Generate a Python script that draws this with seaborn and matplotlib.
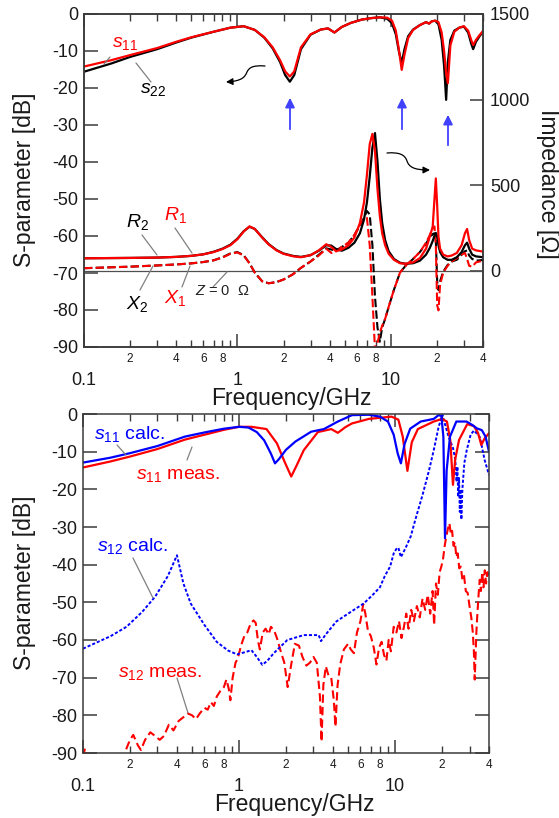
import numpy as np
import matplotlib
matplotlib.use('Agg')
import matplotlib.pyplot as plt
import seaborn as sns
from matplotlib.path import Path
from matplotlib.patches import FancyArrowPatch
from matplotlib.lines import Line2D
from matplotlib.ticker import FixedLocator, FixedFormatter, FuncFormatter, NullLocator

# ---------------- data: top panel (S-parameters, dB) ----------------
f_top = [0.1, 0.15, 0.2, 0.3, 0.4, 0.5, 0.7, 0.9, 1.1, 1.3, 1.5, 1.7, 1.9, 2.05, 2.2, 2.35,
         2.6, 3.0, 3.5, 3.9, 4.3, 4.8, 5.5, 6.5, 7.5, 8.5, 9.5, 10.2, 10.8, 11.3, 11.8, 12.3,
         13.0, 14.0, 15.5, 17.0, 17.8, 18.5, 19.5, 20.5, 21.5, 22.3, 23.0, 23.6, 24.5, 26.0,
         28.0, 30.0, 32.0, 33.5, 34.5, 36.0, 38.0, 40.0]
s11_top = [-14.2, -12.5, -11.1, -9.2, -7.5, -6.3, -4.8, -3.7, -3.3, -4.3, -6.3, -9.0, -12.5,
           -15.5, -16.9, -15.5, -9.0, -5.5, -4.2, -3.9, -5.0, -3.5, -2.4, -1.5, -1.1, -0.9,
           -1.0, -1.8, -4.5, -9.5, -15.1, -11.0, -6.5, -4.3, -3.0, -2.2, -2.6, -2.0, -1.8,
           -2.2, -5.0, -10.0, -16.0, -18.7, -8.5, -4.8, -3.7, -3.3, -4.5, -7.0, -8.4, -7.0,
           -5.7, -4.6]
s22_top = [-15.6, -13.4, -11.6, -9.5, -7.7, -6.4, -4.8, -3.7, -3.3, -4.3, -6.4, -9.3, -13.0,
           -16.5, -18.3, -16.5, -9.5, -5.6, -4.2, -3.9, -5.0, -3.5, -2.4, -1.5, -1.1, -0.9,
           -1.3, -2.5, -5.5, -10.0, -13.3, -9.5, -6.0, -4.2, -3.0, -2.2, -2.6, -2.0, -1.8,
           -2.8, -7.0, -14.0, -23.2, -13.0, -7.0, -4.5, -3.7, -3.4, -5.0, -8.0, -9.5, -7.5,
           -6.0, -4.8]

# ---------------- data: top panel (impedance, Ohm) ----------------
f_z = [0.1, 0.2, 0.3, 0.4, 0.5, 0.6, 0.7, 0.8, 0.9, 1.0, 1.1, 1.2, 1.3, 1.45, 1.6, 1.8, 2.0,
       2.3, 2.6, 3.0, 3.4, 3.8, 4.1, 4.4, 4.8, 5.3, 5.8, 6.3, 6.7, 7.0, 7.3, 7.6, 7.9, 8.2,
       8.5, 8.8, 9.2, 9.7, 10.5, 11.5, 12.5, 14.0, 15.5, 17.0, 18.0, 18.8, 19.3, 19.7, 20.1,
       20.5, 21.0, 22.0, 23.5, 25.0, 27.0, 29.0, 30.5, 31.5, 32.5, 34.0, 36.0, 40.0]
R1 = [74, 76, 78, 82, 88, 97, 110, 128, 150, 185, 230, 260, 245, 195, 155, 120, 100, 86, 80,
      92, 120, 156, 140, 115, 125, 150, 195, 280, 400, 560, 740, 800, 700, 480, 320, 220, 150,
      100, 65, 45, 42, 50, 75, 130, 200, 260, 420, 540, 380, 200, 130, 95, 85, 90, 105, 150,
      220, 245, 180, 130, 120, 113]
R2 = [74, 76, 78, 82, 88, 97, 112, 130, 153, 188, 232, 258, 245, 197, 157, 122, 102, 88, 82,
      92, 118, 150, 148, 128, 118, 135, 165, 220, 300, 400, 550, 720, 805, 640, 420, 280, 180,
      115, 70, 48, 42, 45, 60, 95, 135, 175, 205, 222, 200, 150, 110, 80, 65, 65, 80, 110, 150,
      165, 130, 95, 85, 80]
X1 = [16, 25, 32, 38, 44, 52, 62, 78, 100, 108, 90, 45, -10, -60, -72, -65, -50, -20, 18, 55,
      90, 130, 105, 115, 140, 165, 210, 270, 300, 310, 150, -150, -460, -420, -360, -320, -280,
      -210, -110, -10, 30, 70, 110, 165, 210, 250, 260, 150, -200, -230, -80, -10, 30, 55, 75,
      95, 105, 70, 30, 25, 50, 60]
X2 = [16, 25, 32, 38, 44, 52, 62, 80, 102, 110, 92, 45, -10, -60, -72, -65, -50, -20, 18, 55,
      95, 132, 125, 120, 140, 165, 210, 265, 310, 350, 330, 150, -150, -330, -413, -330, -280,
      -210, -110, -10, 30, 70, 110, 160, 195, 215, 220, 180, -60, -111, -60, -5, 35, 55, 65,
      95, 115, 120, 90, 70, 60, 64]

# ---------------- data: bottom panel ----------------
f_s11c = [0.1, 0.15, 0.2, 0.3, 0.45, 0.6, 0.8, 1.0, 1.15, 1.3, 1.45, 1.6, 1.7, 1.8, 2.0, 2.3,
          2.9, 3.5, 4.3, 5.3, 6.8, 8.0, 9.0, 9.8, 10.4, 10.9, 11.5, 12.5, 14.6, 17.7, 19.0,
          19.8, 20.4, 20.9, 21.4, 22.5, 24.7, 28.7, 31.5, 33.4, 36.0, 38.0, 40.0]
s11_calc = [-12.9, -11.6, -10.4, -8.5, -6.0, -4.9, -3.9, -3.4, -3.6, -4.8, -7.0, -10.5, -13.1,
            -12.0, -9.5, -7.3, -4.7, -4.0, -2.0, -0.3, -0.2, -0.7, -2.0, -5.5, -10.5, -13.1,
            -8.0, -3.9, -2.0, -1.3, -0.3, -0.5, -6.0, -33.0, -15.0, -6.0, -2.0, -2.0, -3.0,
            -3.8, -4.3, -6.0, -10.0]
f_s11m = [0.1, 0.15, 0.2, 0.3, 0.45, 0.6, 0.8, 1.0, 1.2, 1.5, 1.75, 1.95, 2.16, 2.35, 2.6,
          3.2, 3.9, 4.3, 4.8, 5.3, 6.8, 9.5, 10.5, 11.2, 12.0, 12.8, 14.0, 17.7, 20.0, 21.5,
          22.6, 23.5, 24.3, 25.7, 29.0, 32.0, 34.0, 35.7, 37.5, 40.0]
s11_meas = [-14.2, -12.6, -11.3, -9.3, -6.8, -5.5, -4.2, -3.4, -3.4, -4.0, -7.8, -12.5, -16.6,
            -13.5, -9.6, -4.8, -4.0, -5.0, -3.5, -2.5, -1.3, -0.7, -1.5, -6.0, -15.1, -7.5,
            -4.0, -2.0, -1.3, -2.0, -7.0, -18.8, -12.0, -6.9, -2.7, -3.2, -5.0, -8.2, -6.5,
            -5.1]
f_s12c = [0.1, 0.15, 0.19, 0.24, 0.29, 0.35, 0.40, 0.44, 0.49, 0.6, 0.72, 0.85, 0.97, 1.1,
          1.2, 1.3, 1.41, 1.52, 1.67, 2.04, 2.6, 3.24, 3.35, 3.6, 4.2, 5.0, 6.3, 7.2, 8.0, 8.6,
          9.3, 9.8, 10.2, 10.5, 10.9, 11.7, 12.6, 13.5, 15.0, 16.5, 17.7, 19.0, 20.1, 21.0,
          22.0, 23.5, 24.3, 24.8, 25.1, 25.4, 25.7, 26.0, 26.3, 26.6, 27.0, 27.8, 28.8, 30.5,
          32.0, 34.0, 35.0, 37.5, 40.0]
s12_calc = [-62.3, -59.0, -56.5, -52.5, -48.5, -43.0, -37.5, -45.0, -50.3, -56.0, -60.5,
            -62.8, -63.8, -63.2, -62.7, -64.5, -66.6, -65.5, -63.5, -60.0, -58.7, -58.7, -60.3,
            -58.5, -55.1, -53.0, -50.3, -48.0, -46.0, -43.0, -40.5, -37.0, -35.8, -35.5, -38.0,
            -35.5, -32.5, -28.0, -21.5, -15.0, -9.6, -3.5, -0.2, -3.0, -6.0, -9.0, -12.0,
            -18.0, -14.0, -22.0, -17.0, -26.0, -20.0, -28.0, -20.0, -13.0, -9.6, -5.5, -4.4,
            -5.5, -6.2, -12.2, -16.2]
f_s12m = [0.100, 0.103, 0.107, 0.12, 0.15, 0.17, 0.185, 0.20, 0.21, 0.225, 0.235, 0.25, 0.27,
          0.29, 0.31, 0.33, 0.355, 0.38, 0.41, 0.44, 0.47, 0.50, 0.53, 0.56, 0.60, 0.63, 0.66,
          0.69, 0.72, 0.76, 0.80, 0.83, 0.86, 0.88, 0.91, 0.95, 0.98, 1.03, 1.08, 1.13, 1.19,
          1.24, 1.28, 1.32, 1.36, 1.42, 1.48, 1.55, 1.60, 1.68, 1.75, 1.85, 1.95, 2.05, 2.15,
          2.28, 2.42, 2.55, 2.70, 2.85, 3.00, 3.15, 3.30, 3.38, 3.47, 3.60, 3.75, 3.90, 4.05,
          4.15, 4.28, 4.45, 4.70, 5.00, 5.20, 5.45, 5.70, 6.00, 6.25, 6.45, 6.70, 7.00, 7.30,
          7.60, 7.90, 8.20, 8.50, 8.80, 9.10, 9.40, 9.80, 10.2, 10.6, 11.0, 11.4, 11.8, 12.2,
          12.7, 13.2, 13.8, 14.4, 15.0, 15.6, 16.2, 16.8, 17.4, 17.8, 18.3, 18.8, 19.3, 19.8,
          20.3, 20.8, 21.3, 21.8, 22.3, 22.8, 23.2, 23.7, 24.2, 24.7, 25.2, 25.8, 26.4, 27.0,
          27.7, 28.4, 29.2, 30.0, 30.8, 31.5, 32.0, 32.4, 32.8, 33.2, 33.7, 34.3, 34.9, 35.5,
          36.2, 36.9, 37.6, 38.3, 39.1, 40.0]
s12_meas = [-91, -88.8, -91.5, -96, -97, -94, -90, -86.5, -85.2, -88, -89.2, -86.5, -84.5,
            -85.5, -86.5, -85.5, -82.5, -84, -81.5, -80.5, -79.5, -80.0, -81.0, -79.5, -78,
            -78.5, -76.5, -77.5, -75.0, -73.5, -72.5, -70.5, -73, -76.0, -70, -66, -65, -61.5,
            -59, -58, -55.5, -54.8, -55.5, -60, -62.5, -58, -57, -58.5, -56.5, -57.5, -59.5,
            -63, -66, -72.5, -67, -61, -61.5, -64.5, -66.8, -66, -64.5, -66, -75, -87, -72,
            -67, -69.5, -70, -76, -83, -72, -66.5, -62.5, -61, -62.5, -63.5, -58, -55, -50.5,
            -53, -57.5, -59, -62, -66.5, -62, -60.5, -64, -65.5, -60, -63, -56.5, -58, -55,
            -59.5, -56.5, -53, -57, -52, -55, -51, -54, -49, -52, -48, -53, -47, -56, -45, -48,
            -42, -40.5, -38.5, -35, -32.5, -30.5, -29, -32, -31, -35, -34, -38, -37, -41, -40.5,
            -44, -43, -47, -47.5, -51, -54, -58, -63, -70.5, -64, -58, -53, -48, -44, -47, -42,
            -46, -41.5, -45, -42, -44]

# ---------------- axis tick data ----------------
major_ticks = [0.1, 1, 10]
major_labels = ['0.1', '1', '10']
minor_ticks = [m * d for d in (0.1, 1, 10) for m in range(2, 10) if m * d <= 40.0001]
y_ticks = list(range(-90, 1, 10))
z_ticks = [0, 500, 1000, 1500]

# ---------------- theme ----------------
sns.set_theme(style='ticks')
plt.rcParams['font.family'] = ['Liberation Sans', 'DejaVu Sans']
plt.rcParams['axes.unicode_minus'] = False
plt.rcParams['mathtext.fontset'] = 'custom'
plt.rcParams['mathtext.rm'] = 'Liberation Sans'
plt.rcParams['mathtext.it'] = 'Liberation Sans:italic'

W, H = 559, 818
fig = plt.figure(figsize=(W / 100, H / 100), dpi=100)


def P(x, y):
    return (x / W, 1 - y / H)


def rect(l, t, r, b):
    return [l / W, 1 - b / H, (r - l) / W, (b - t) / H]


SP = '#3a3a3a'
TXT = '#1a1a1a'
RED = '#ff0000'
BLUE = '#0000ff'
GRAY = '#808080'


def minor_fmt(v, pos):
    e = np.floor(np.log10(v) + 1e-9)
    m = v / 10 ** e
    d = int(round(m))
    if abs(m - d) < 1e-6 and d in (2, 4, 6, 8):
        return str(d)
    return ''


def style(ax):
    ax.set_xscale('log')
    ax.set_xlim(0.1, 40)
    ax.set_ylim(-90, 0)
    ax.set_yticks(y_ticks)
    ax.set_yticklabels([str(v) for v in y_ticks])
    ax.yaxis.set_minor_locator(NullLocator())
    ax.xaxis.set_major_locator(FixedLocator(major_ticks))
    ax.xaxis.set_major_formatter(FixedFormatter(major_labels))
    ax.xaxis.set_minor_locator(FixedLocator(minor_ticks))
    ax.xaxis.set_minor_formatter(FuncFormatter(minor_fmt))
    for s in ax.spines.values():
        s.set_visible(True)
        s.set_color(SP)
        s.set_linewidth(1.1)
    ax.tick_params(axis='x', which='major', direction='in', length=9.5, width=1.1,
                   color=SP, top=True, bottom=True, labelsize=13, pad=18, labelcolor=TXT)
    ax.tick_params(axis='x', which='minor', direction='in', length=5, width=1.0,
                   color=SP, top=True, bottom=True, labelsize=8.5, pad=4, labelcolor=TXT)
    ax.tick_params(axis='y', which='major', direction='in', length=10, width=1.1,
                   color=SP, left=True, labelsize=13, pad=4, labelcolor=TXT)
    ax.set_xlabel('')
    ax.set_ylabel('')
    ax.set_facecolor('white')


# ---------------- top panel ----------------
ax_t = fig.add_axes(rect(84, 14, 483, 347))
ax_t.set_xscale('log')
ax_z = ax_t.twinx()

sns.lineplot(x=f_top, y=s22_top, ax=ax_t, color='black', lw=1.6, estimator=None)
sns.lineplot(x=f_top, y=s11_top, ax=ax_t, color=RED, lw=1.6, estimator=None)

ax_z.axhline(0, color='#505050', lw=0.9)
sns.lineplot(x=f_z, y=X2, ax=ax_z, color='black', lw=1.5, ls=(0, (4, 1.6)), estimator=None)
sns.lineplot(x=f_z, y=X1, ax=ax_z, color=RED, lw=1.5, ls=(0, (4, 1.6)), estimator=None)
sns.lineplot(x=f_z, y=R2, ax=ax_z, color='black', lw=1.6, estimator=None)
sns.lineplot(x=f_z, y=R1, ax=ax_z, color=RED, lw=1.6, estimator=None)
ax_z.set_ylim(-444, 1500)
ax_z.set_yticks(z_ticks)
ax_z.set_yticklabels([str(v) for v in z_ticks])
ax_z.yaxis.set_minor_locator(NullLocator())
ax_z.tick_params(axis='y', which='major', direction='in', length=9.5, width=1.1, color=SP,
                 labelsize=13, pad=5, labelcolor=TXT)
ax_z.set_xlabel('')
ax_z.set_ylabel('')
for s in ax_z.spines.values():
    s.set_color(SP)
    s.set_linewidth(1.1)

# x-axis styling after the twin is set up (shared x-axis)
style(ax_t)
ax_t.tick_params(axis='y', right=False)
ax_z.tick_params(axis='x', which='both', top=False, bottom=False, labeltop=False, labelbottom=False)

# ---------------- bottom panel ----------------
ax_b = fig.add_axes(rect(83, 414, 489, 753))
sns.lineplot(x=f_s12m, y=s12_meas, ax=ax_b, color=RED, lw=1.5, ls=(0, (4, 2)), estimator=None)
sns.lineplot(x=f_s12c, y=s12_calc, ax=ax_b, color=BLUE, lw=1.4, ls=(0, (1.6, 1.0)), estimator=None)
sns.lineplot(x=f_s11m, y=s11_meas, ax=ax_b, color=RED, lw=1.6, estimator=None)
sns.lineplot(x=f_s11c, y=s11_calc, ax=ax_b, color=BLUE, lw=1.6, estimator=None)
style(ax_b)
ax_b.tick_params(axis='y', right=True, labelright=False)

# ---------------- axis titles ----------------
fig.text(*P(25, 180), 'S-parameter [dB]', rotation=90, ha='center', va='center', fontsize=16.5, color=TXT)
fig.text(*P(25, 583), 'S-parameter [dB]', rotation=90, ha='center', va='center', fontsize=16.5, color=TXT)
fig.text(*P(291, 399), 'Frequency/GHz', ha='center', va='center', fontsize=16.5, color=TXT)
fig.text(*P(294, 805), 'Frequency/GHz', ha='center', va='center', fontsize=16.5, color=TXT)
fig.text(*P(547, 184), 'Impedance [Ω]', rotation=270, ha='center', va='center', fontsize=16.5, color=TXT)


# ---------------- annotations ----------------
def lead(x0, y0, x1, y1):
    fig.add_artist(Line2D([x0 / W, x1 / W], [1 - y0 / H, 1 - y1 / H], color=GRAY, lw=0.9,
                          transform=fig.transFigure))


def lab(x, y, s, color, size=14):
    fig.text(*P(x, y), s, ha='center', va='center', fontsize=size, color=color)


lab(125, 44, r'$s_{\mathit{11}}$', RED)
lead(110, 57, 104, 64)
lab(153, 90, r'$s_{\mathit{22}}$', 'black')
lead(151, 82, 136, 63)

lab(137, 222, r'$R_{\mathit{2}}$', 'black')
lab(175, 215, r'$R_{\mathit{1}}$', RED)
lab(137, 304, r'$X_{\mathit{2}}$', 'black')
lab(175, 298, r'$X_{\mathit{1}}$', RED)
lab(222, 291, r'$Z$ = 0  Ω', '#222222', size=10.5)
lead(142, 235, 157, 255)
lead(175, 228, 192, 253)
lead(140, 290, 153, 266)
lead(182, 287, 190, 266)
lead(213, 287, 227, 272)

lab(130, 434, r'$s_{\mathit{11}}$ calc.', BLUE)
lab(178, 475, r'$s_{\mathit{11}}$ meas.', RED)
lab(133, 546, r'$s_{\mathit{12}}$ calc.', BLUE)
lab(160, 674, r'$s_{\mathit{12}}$ meas.', RED)
lead(117, 445, 126, 455)
lead(187, 460, 192, 447)
lead(133, 558, 153, 598)
lead(177, 678, 188, 713)

# blue arrows
for (x, yt, yb) in [(290, 95, 132), (402, 95, 132), (448, 112, 148)]:
    fig.add_artist(FancyArrowPatch(P(x, yb), P(x, yt), arrowstyle='-|>', mutation_scale=14,
                                   color='#4040ff', lw=1.3, transform=fig.transFigure))


# squiggly arrows
def squiggle(pts):
    verts = [P(*p) for p in pts]
    codes = [Path.MOVETO] + [Path.CURVE4] * (len(pts) - 1)
    fig.add_artist(FancyArrowPatch(path=Path(verts, codes), arrowstyle='-|>', mutation_scale=10,
                                   color='black', lw=0.9, transform=fig.transFigure))


squiggle([(265, 66), (252, 65), (249, 68), (247, 72), (245, 77), (242, 81), (226, 82)])
squiggle([(387, 153), (400, 152), (405, 155), (407, 161), (409, 167), (414, 170), (430, 170)])

fig.savefig('out.png', dpi=100, facecolor='white')
